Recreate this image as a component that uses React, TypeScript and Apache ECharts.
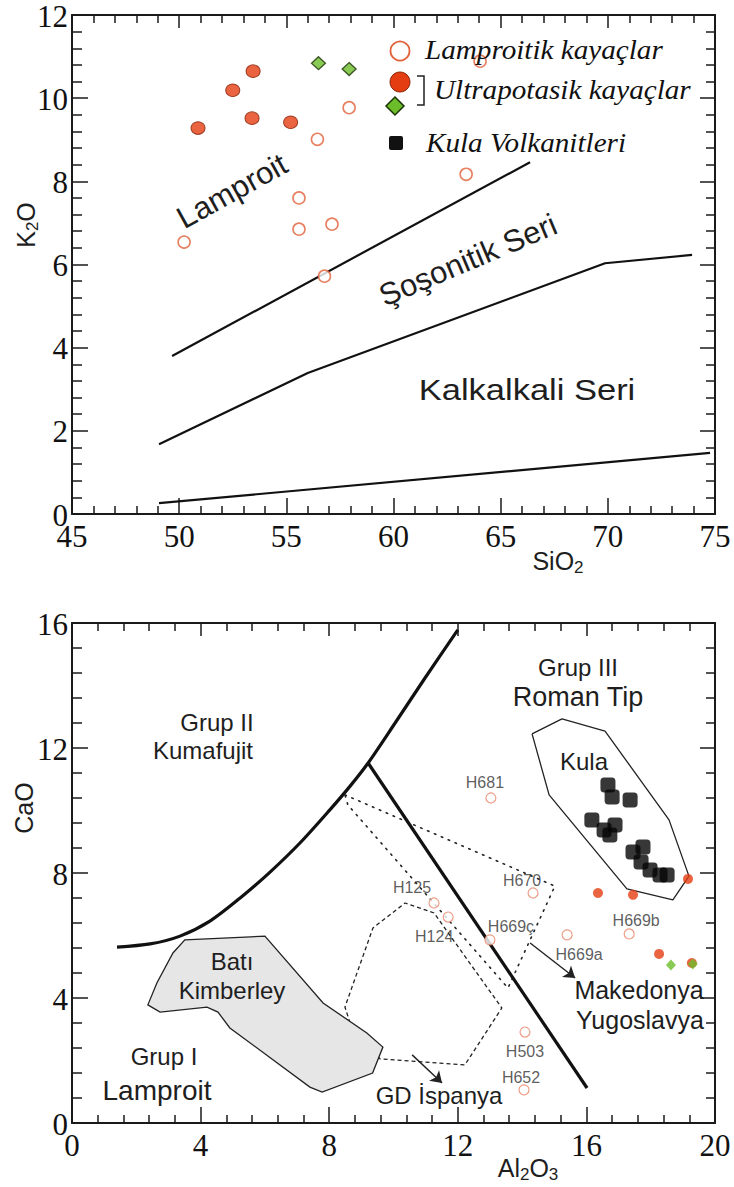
import React, { useEffect, useRef } from 'react';
import * as echarts from 'echarts';

// ---------- Top chart: K2O vs SiO2 ----------
const siO2TickLabels = [45, 50, 55, 60, 65, 70, 75];
const k2oTickLabels = [0, 2, 4, 6, 8, 10, 12];

const lamproitikSiO2 = [50.23, 55.59, 55.59, 57.13, 56.45, 57.93, 56.78, 64.04, 63.39];
const lamproitikK2O = [6.54, 7.6, 6.85, 6.97, 9.01, 9.77, 5.72, 10.89, 8.17];
const ultraCircleSiO2 = [50.88, 52.5, 53.45, 53.4, 55.2];
const ultraCircleK2O = [9.28, 10.19, 10.65, 9.52, 9.42];
const ultraDiamondSiO2 = [56.5, 57.93];
const ultraDiamondK2O = [10.84, 10.7];

const lineLamproitSosonitik = [[49.67, 3.8], [66.37, 8.46]];
const lineSosonitikKalkalkali = [[49.06, 1.68], [56.0, 3.39], [69.87, 6.03], [73.93, 6.23]];
const lineKalkalkaliLowK = [[49.06, 0.26], [74.77, 1.47]];

// ---------- Bottom chart: CaO vs Al2O3 ----------
const al2o3TickLabels = [0, 4, 8, 12, 16, 20];
const caoTickLabels = [0, 4, 8, 12, 16];

const sampleNames = ['H681', 'H670', 'H125', 'H124', 'H669ç', 'H669a', 'H669b', 'H503', 'H652'];
const sampleAl2O3 = [13.03, 14.34, 11.26, 11.7, 13.0, 15.4, 17.33, 14.09, 14.06];
const sampleCaO = [10.4, 7.36, 7.04, 6.59, 5.86, 6.02, 6.05, 2.91, 1.06];

const kulaAl2O3 = [16.67, 16.8, 17.36, 16.17, 16.55, 16.89, 16.73, 17.45, 17.76, 17.7, 17.98, 18.29, 18.51];
const kulaCaO = [10.82, 10.43, 10.34, 9.7, 9.38, 9.54, 9.22, 8.67, 8.83, 8.35, 8.1, 7.94, 7.94];

const ultraRedAl2O3 = [19.16, 16.36, 17.45, 18.26, 19.28];
const ultraRedCaO = [7.81, 7.36, 7.3, 5.41, 5.12];
const ultraGreenAl2O3 = [18.63, 19.31];
const ultraGreenCaO = [5.06, 5.09];

const boundaryGrupI_II = [
  [1.4, 5.63], [2.43, 5.73], [3.36, 5.98], [4.29, 6.46], [5.23, 7.2], [6.16, 8.03],
  [7.09, 8.96], [8.02, 10.02], [8.65, 10.78], [9.21, 11.52], [10.05, 12.8], [10.98, 14.24], [12.0, 15.78],
];
const boundaryGrupI_III = [[9.21, 11.52], [16.02, 1.12]];

const kulaField = [
  [14.31, 12.45], [15.24, 12.93], [16.58, 12.54], [18.57, 9.7], [19.19, 7.9],
  [18.69, 7.14], [17.26, 7.49], [14.84, 10.5], [14.31, 12.45],
];
const makedonyaField = [[8.49, 10.5], [15.02, 7.58], [13.56, 4.32], [8.58, 10.18], [8.49, 10.5]];
const ispanyaField = [
  [8.65, 3.2], [8.49, 3.71], [9.36, 6.24], [10.36, 7.04], [11.26, 6.72],
  [13.37, 3.68], [12.22, 1.86], [9.58, 2.05], [8.65, 3.2],
];
const batiKimberleyAl2O3 = [3.51, 6.0, 7.81, 9.17, 9.67, 9.35, 7.78, 7.4, 4.91, 4.54, 4.2, 2.74, 2.36, 2.64, 3.14];
const batiKimberleyCaO = [5.86, 5.98, 3.84, 2.88, 2.43, 1.6, 0.99, 1.15, 3.04, 3.55, 3.71, 3.55, 3.78, 4.48, 5.44];

const arrowIspanya = [[10.58, 2.18], [11.51, 1.28]];
const arrowMakedonya = [[14.25, 5.76], [15.65, 4.64]];

// label placement (px offsets from the point), kept apart from the data
const sampleLabelOffsets: Record<string, number[]> = {
  H681: [-6, -16], H670: [-11, -13], H125: [-22, -16], H124: [-14, 19],
  'H669ç': [21, -13], H669a: [12, 20], H669b: [7, -13], H503: [0, 19], H652: [-3, -12],
};

const AX = '#1a1a1a';
const SANS = 'Liberation Sans';
const SERIF = 'Liberation Serif';
const TICK_FONT = '"Liberation Serif", "Times New Roman", "DejaVu Serif", serif';

function axis(gridIndex: number, min: number, max: number, interval: number, position: string,
  major: number, minor: number) {
  return {
    type: 'value', gridIndex, min, max, interval, position,
    axisLine: { show: true, onZero: false, lineStyle: { color: AX, width: 2 } },
    axisTick: { show: true, inside: true, length: major, lineStyle: { color: AX, width: 1.5 } },
    minorTick: { show: true, splitNumber: 5, length: minor, lineStyle: { color: AX, width: 1.5 } },
    axisLabel: { show: false },
    splitLine: { show: false },
    minorSplitLine: { show: false },
  };
}

// serif tick labels, placed through the axes' own scales
function xTickLabels(axisIdx: number, ticks: number[], yMin: number) {
  return {
    type: 'custom', xAxisIndex: axisIdx, yAxisIndex: axisIdx, silent: true, z: 20,
    data: ticks.map((t) => [t, yMin]),
    renderItem: (_p: any, api: any) => {
      const pt = api.coord([api.value(0), api.value(1)]);
      return {
        type: 'text', x: pt[0], y: pt[1] + 22,
        style: {
          text: String(api.value(0)), fontFamily: TICK_FONT, fontStyle: 'normal', fontWeight: 'normal',
          fontSize: 31, fill: '#111', align: 'center', verticalAlign: 'middle',
        },
      };
    },
  };
}
function yTickLabels(axisIdx: number, ticks: number[], xMin: number) {
  return {
    type: 'custom', xAxisIndex: axisIdx, yAxisIndex: axisIdx, silent: true, z: 20,
    data: ticks.map((t) => [xMin, t]),
    renderItem: (_p: any, api: any) => {
      const pt = api.coord([api.value(0), api.value(1)]);
      return {
        type: 'text', x: pt[0] - 4, y: pt[1] + 1,
        style: {
          text: String(api.value(1)), fontFamily: TICK_FONT, fontStyle: 'normal', fontWeight: 'normal',
          fontSize: 31, fill: '#111', align: 'right', verticalAlign: 'middle',
        },
      };
    },
  };
}

const zip = (a: number[], b: number[]) => a.map((v, i) => [v, b[i]]);

function label(text: string, x: number, y: number, size: number, rotationDeg = 0, scaleX = 1) {
  return {
    type: 'text', x, y, rotation: (rotationDeg * Math.PI) / 180, scaleX,
    style: { text, fontFamily: SANS, fontSize: size, fill: '#1e1e1e', align: 'center', verticalAlign: 'middle' },
    z: 50,
  };
}

function subLabel(parts: string, x: number, y: number, rotationDeg = 0) {
  return {
    type: 'text', x, y, rotation: (rotationDeg * Math.PI) / 180,
    style: {
      text: parts, align: 'center', verticalAlign: 'middle', fill: '#1e1e1e', fontFamily: SANS,
      rich: {
        a: { fontFamily: SANS, fontSize: 25, fill: '#1e1e1e', lineHeight: 30, verticalAlign: 'middle' },
        b: { fontFamily: SANS, fontSize: 17, fill: '#1e1e1e', lineHeight: 30, verticalAlign: 'bottom' },
      },
    },
    z: 50,
  };
}

const legendTextStyle = { fontFamily: SERIF, fontStyle: 'italic', fontSize: 27, fill: '#111', verticalAlign: 'middle', align: 'left' };

const option: any = {
  animation: false,
  backgroundColor: '#ffffff',
  grid: [
    { left: 72, top: 15, width: 643, height: 499 },
    { left: 72, top: 623, width: 643, height: 500 },
  ],
  xAxis: [
    axis(0, 45, 75, 5, 'bottom', 16, 8),
    axis(1, 0, 20, 4, 'bottom', 16, 8),
    axis(0, 45, 75, 5, 'top', 13, 8),
    axis(1, 0, 20, 4, 'top', 13, 8),
  ],
  yAxis: [
    axis(0, 0, 12, 2, 'left', 16, 10),
    axis(1, 0, 16, 4, 'left', 16, 10),
    axis(0, 0, 12, 2, 'right', 15, 9),
    axis(1, 0, 16, 4, 'right', 15, 9),
  ],
  series: [
    // ---- tick labels ----
    xTickLabels(0, siO2TickLabels, 0),
    yTickLabels(0, k2oTickLabels, 45),
    xTickLabels(1, al2o3TickLabels, 0),
    yTickLabels(1, caoTickLabels, 0),

    // ---- top ----
    { type: 'line', xAxisIndex: 0, yAxisIndex: 0, data: lineLamproitSosonitik, showSymbol: false, symbol: 'none',
      lineStyle: { color: '#111', width: 2.2 }, silent: true },
    { type: 'line', xAxisIndex: 0, yAxisIndex: 0, data: lineSosonitikKalkalkali, showSymbol: false, symbol: 'none',
      lineStyle: { color: '#111', width: 2.2 }, silent: true },
    { type: 'line', xAxisIndex: 0, yAxisIndex: 0, data: lineKalkalkaliLowK, showSymbol: false, symbol: 'none',
      lineStyle: { color: '#111', width: 2.2 }, silent: true },
    { type: 'scatter', xAxisIndex: 0, yAxisIndex: 0, data: zip(lamproitikSiO2, lamproitikK2O), symbol: 'circle',
      symbolSize: 12, itemStyle: { color: '#ffffff', borderColor: '#e0603a', borderWidth: 1.6 }, z: 5 },
    { type: 'scatter', xAxisIndex: 0, yAxisIndex: 0, data: zip(ultraCircleSiO2, ultraCircleK2O), symbol: 'circle',
      symbolSize: [14, 12.5], itemStyle: { color: '#e53d12', borderColor: '#8a2208', borderWidth: 1 }, z: 5 },
    { type: 'scatter', xAxisIndex: 0, yAxisIndex: 0, data: zip(ultraDiamondSiO2, ultraDiamondK2O), symbol: 'diamond',
      symbolSize: [14, 13], itemStyle: { color: '#6cbd2a', borderColor: '#1d3306', borderWidth: 1.3 }, z: 5 },

    // ---- bottom ----
    { type: 'line', xAxisIndex: 1, yAxisIndex: 1, data: makedonyaField, showSymbol: false, symbol: 'none',
      lineStyle: { color: '#222', width: 1.6, type: [1.5, 6], cap: 'round' }, silent: true, z: 2 },
    { type: 'line', xAxisIndex: 1, yAxisIndex: 1, data: ispanyaField, showSymbol: false, symbol: 'none',
      lineStyle: { color: '#222', width: 1.3, type: [4, 3] }, silent: true, z: 2 },
    {
      type: 'custom', xAxisIndex: 1, yAxisIndex: 1, data: [0], silent: true, z: 3,
      renderItem: (_p: any, api: any) => ({
        type: 'polygon',
        shape: { points: batiKimberleyAl2O3.map((a, i) => api.coord([a, batiKimberleyCaO[i]])) },
        style: { fill: '#e6e6e6', stroke: '#222', lineWidth: 1.3 },
      }),
    },
    { type: 'line', xAxisIndex: 1, yAxisIndex: 1, data: kulaField, showSymbol: false, symbol: 'none',
      lineStyle: { color: '#222', width: 1.3 }, silent: true, z: 3,
      markLine: {
        silent: true, symbol: ['none', 'arrow'], symbolSize: 11, animation: false,
        lineStyle: { color: '#222', width: 1.4, type: 'solid' },
        label: { show: false },
        data: [
          [{ coord: arrowIspanya[0] }, { coord: arrowIspanya[1] }],
          [{ coord: arrowMakedonya[0] }, { coord: arrowMakedonya[1] }],
        ],
      },
    },
    { type: 'line', xAxisIndex: 1, yAxisIndex: 1, data: boundaryGrupI_II, showSymbol: false, symbol: 'none',
      smooth: 0.3, lineStyle: { color: '#111', width: 3.2 }, silent: true, z: 4 },
    { type: 'line', xAxisIndex: 1, yAxisIndex: 1, data: boundaryGrupI_III, showSymbol: false, symbol: 'none',
      lineStyle: { color: '#111', width: 3.2 }, silent: true, z: 4 },
    { type: 'scatter', xAxisIndex: 1, yAxisIndex: 1, data: zip(kulaAl2O3, kulaCaO), symbol: 'roundRect',
      symbolSize: 15, itemStyle: { color: '#050505' }, z: 5 },
    {
      type: 'scatter', xAxisIndex: 1, yAxisIndex: 1, symbol: 'circle', symbolSize: 10, z: 6,
      itemStyle: { color: '#ffffff', borderColor: '#e8866a', borderWidth: 1.2 },
      data: sampleNames.map((n, i) => ({
        name: n, value: [sampleAl2O3[i], sampleCaO[i]],
        label: { show: true, position: 'inside', offset: sampleLabelOffsets[n], formatter: '{b}',
          fontFamily: SANS, fontSize: 16, color: '#333' },
      })),
    },
    { type: 'scatter', xAxisIndex: 1, yAxisIndex: 1, data: zip(ultraRedAl2O3, ultraRedCaO), symbol: 'circle',
      symbolSize: 10, itemStyle: { color: '#e53d12' }, z: 6 },
    { type: 'scatter', xAxisIndex: 1, yAxisIndex: 1, data: zip(ultraGreenAl2O3, ultraGreenCaO), symbol: 'diamond',
      symbolSize: [10, 11], itemStyle: { color: '#6cbd2a' }, z: 7 },
  ],
  graphic: [
    // top chart annotations
    label('Lamproit', 232, 191, 31, 29),
    label('Şoşonitik Seri', 468, 260, 31, 23),
    label('Kalkalkali Seri', 527, 390, 30, 0, 1.15),
    subLabel('{a|K}{b|2}{a|O}', 26, 225, 90),
    subLabel('{a|SiO}{b|2}', 558, 561, 0),
    // legend
    { type: 'circle', shape: { cx: 400, cy: 51, r: 9.5 }, style: { fill: '#fff', stroke: '#e0603a', lineWidth: 1.8 }, z: 50 },
    { type: 'text', x: 425, y: 50, scaleX: 1.08, style: { text: 'Lamproitik kayaçlar', ...legendTextStyle }, z: 50 },
    { type: 'circle', shape: { cx: 400, cy: 82, r: 10 }, style: { fill: '#e53d12', stroke: '#8a2208', lineWidth: 1 }, z: 50 },
    { type: 'polygon', shape: { points: [[395, 97], [404, 106], [395, 115], [386, 106]] },
      style: { fill: '#6cbd2a', stroke: '#1d3306', lineWidth: 1.5 }, z: 50 },
    { type: 'polyline', shape: { points: [[417, 76], [424, 76], [424, 105], [417, 105]] },
      style: { fill: 'none', stroke: '#222', lineWidth: 1.5 }, z: 50 },
    { type: 'text', x: 434, y: 90, scaleX: 1.08, style: { text: 'Ultrapotasik kayaçlar', ...legendTextStyle }, z: 50 },
    { type: 'rect', shape: { x: 389, y: 136, width: 14, height: 14, r: 2 }, style: { fill: '#111' }, z: 50 },
    { type: 'text', x: 426, y: 143, scaleX: 1.08, style: { text: 'Kula Volkanitleri', ...legendTextStyle }, z: 50 },

    // bottom chart annotations
    label('Grup II', 217, 722, 24),
    label('Kumafujit', 203, 750, 24),
    label('Grup III', 578, 667, 24),
    label('Roman Tip', 578, 697, 27),
    label('Kula', 584, 761, 24),
    label('Batı', 232, 961, 24),
    label('Kimberley', 232, 990, 24),
    label('Grup I', 164, 1056, 24),
    label('Lamproit', 157, 1090, 28),
    label('GD İspanya', 439, 1095, 24),
    label('Makedonya', 639, 990, 25),
    label('Yugoslavya', 640, 1020, 25),
    subLabel('{a|CaO}', 24, 808, 90),
    subLabel('{a|Al}{b|2}{a|O}{b|3}', 528, 1168, 0),
  ],
};

export default function App() {
  const ref = useRef<HTMLDivElement>(null);
  useEffect(() => {
    const chart = echarts.init(ref.current as HTMLDivElement, null, { renderer: 'svg' });
    chart.setOption(option);
    return () => chart.dispose();
  }, []);
  return (
    <div
      ref={ref}
      style={{ position: 'absolute', left: 0, top: 0, width: 734, height: 1187, background: '#fff' }}
    />
  );
}
